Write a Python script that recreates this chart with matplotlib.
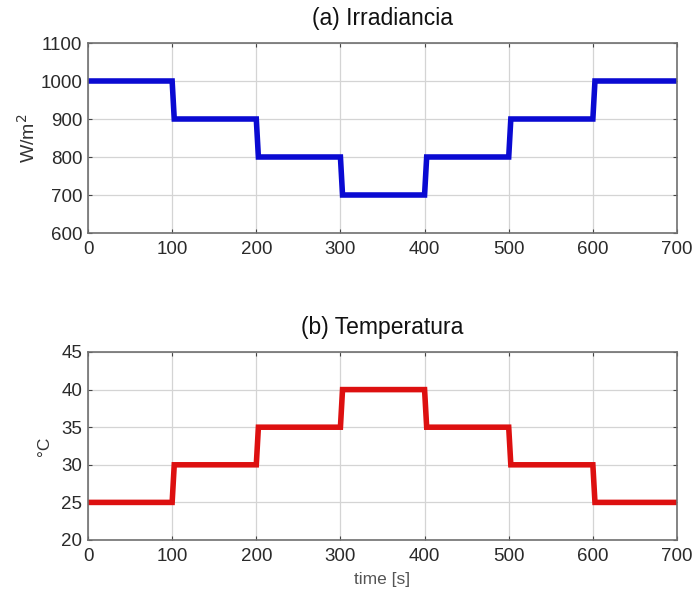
import numpy as np
import matplotlib
matplotlib.use("Agg")
import matplotlib.pyplot as plt

plt.rcParams['font.family'] = ['Liberation Sans', 'DejaVu Sans']

# Step profiles: one level per 100 s segment
segment_edges = [0, 100, 200, 300, 400, 500, 600, 700]
irradiance = [1000, 900, 800, 700, 800, 900, 1000]
temperature = [25, 30, 35, 40, 35, 30, 25]
ramp = 2.5  # seconds taken by each change of level

x_ticks = [0, 100, 200, 300, 400, 500, 600, 700]
irr_ticks = [600, 700, 800, 900, 1000, 1100]
temp_ticks = [20, 25, 30, 35, 40, 45]


def step_path(edges, levels, ramp):
    t, y = [edges[0]], [levels[0]]
    for i in range(1, len(levels)):
        t += [edges[i], edges[i] + ramp]
        y += [levels[i - 1], levels[i]]
    t.append(edges[-1])
    y.append(levels[-1])
    return np.array(t), np.array(y)


fig = plt.figure(figsize=(6.96, 5.94), dpi=100)
ax1 = fig.add_axes([88 / 696, 1 - 233 / 594, 589 / 696, 190 / 594])
ax2 = fig.add_axes([88 / 696, 1 - 540 / 594, 589 / 696, 188 / 594])

spine_col = '#707070'
tick_col = '#2a2a2a'


def style(ax, yticks):
    ax.set_xlim(0, 700)
    ax.set_ylim(yticks[0], yticks[-1])
    ax.set_xticks(x_ticks)
    ax.set_yticks(yticks)
    ax.grid(True, color='#d4d4d4', linewidth=0.9)
    ax.set_axisbelow(True)
    for s in ax.spines.values():
        s.set_color(spine_col)
        s.set_linewidth(1.2)
    ax.tick_params(direction='in', length=3, width=0.8, color='#444444',
                   top=True, right=True, labelsize=13.5, labelcolor=tick_col)
    ax.tick_params(axis='x', pad=6)
    ax.tick_params(axis='y', pad=4)


t1, y1 = step_path(segment_edges, irradiance, ramp)
ax1.plot(t1, y1, color='#0a0ad2', linewidth=4.0, solid_joinstyle='miter')
style(ax1, irr_ticks)
ax1.set_title('(a) Irradiancia', fontsize=16.5, color='#111111', pad=13)
ax1.set_ylabel('W/m$^2$', fontsize=14, color='#333333', labelpad=1)

t2, y2 = step_path(segment_edges, temperature, ramp)
ax2.plot(t2, y2, color='#dd1010', linewidth=4.0, solid_joinstyle='miter')
style(ax2, temp_ticks)
ax2.set_title('(b) Temperatura', fontsize=16.5, color='#111111', pad=13)
ax2.set_ylabel('°C', fontsize=12.5, color='#333333', labelpad=7)
ax2.set_xlabel('time [s]', fontsize=12.5, color='#555555', labelpad=5)

fig.savefig('out.png', dpi=100, facecolor='white')
